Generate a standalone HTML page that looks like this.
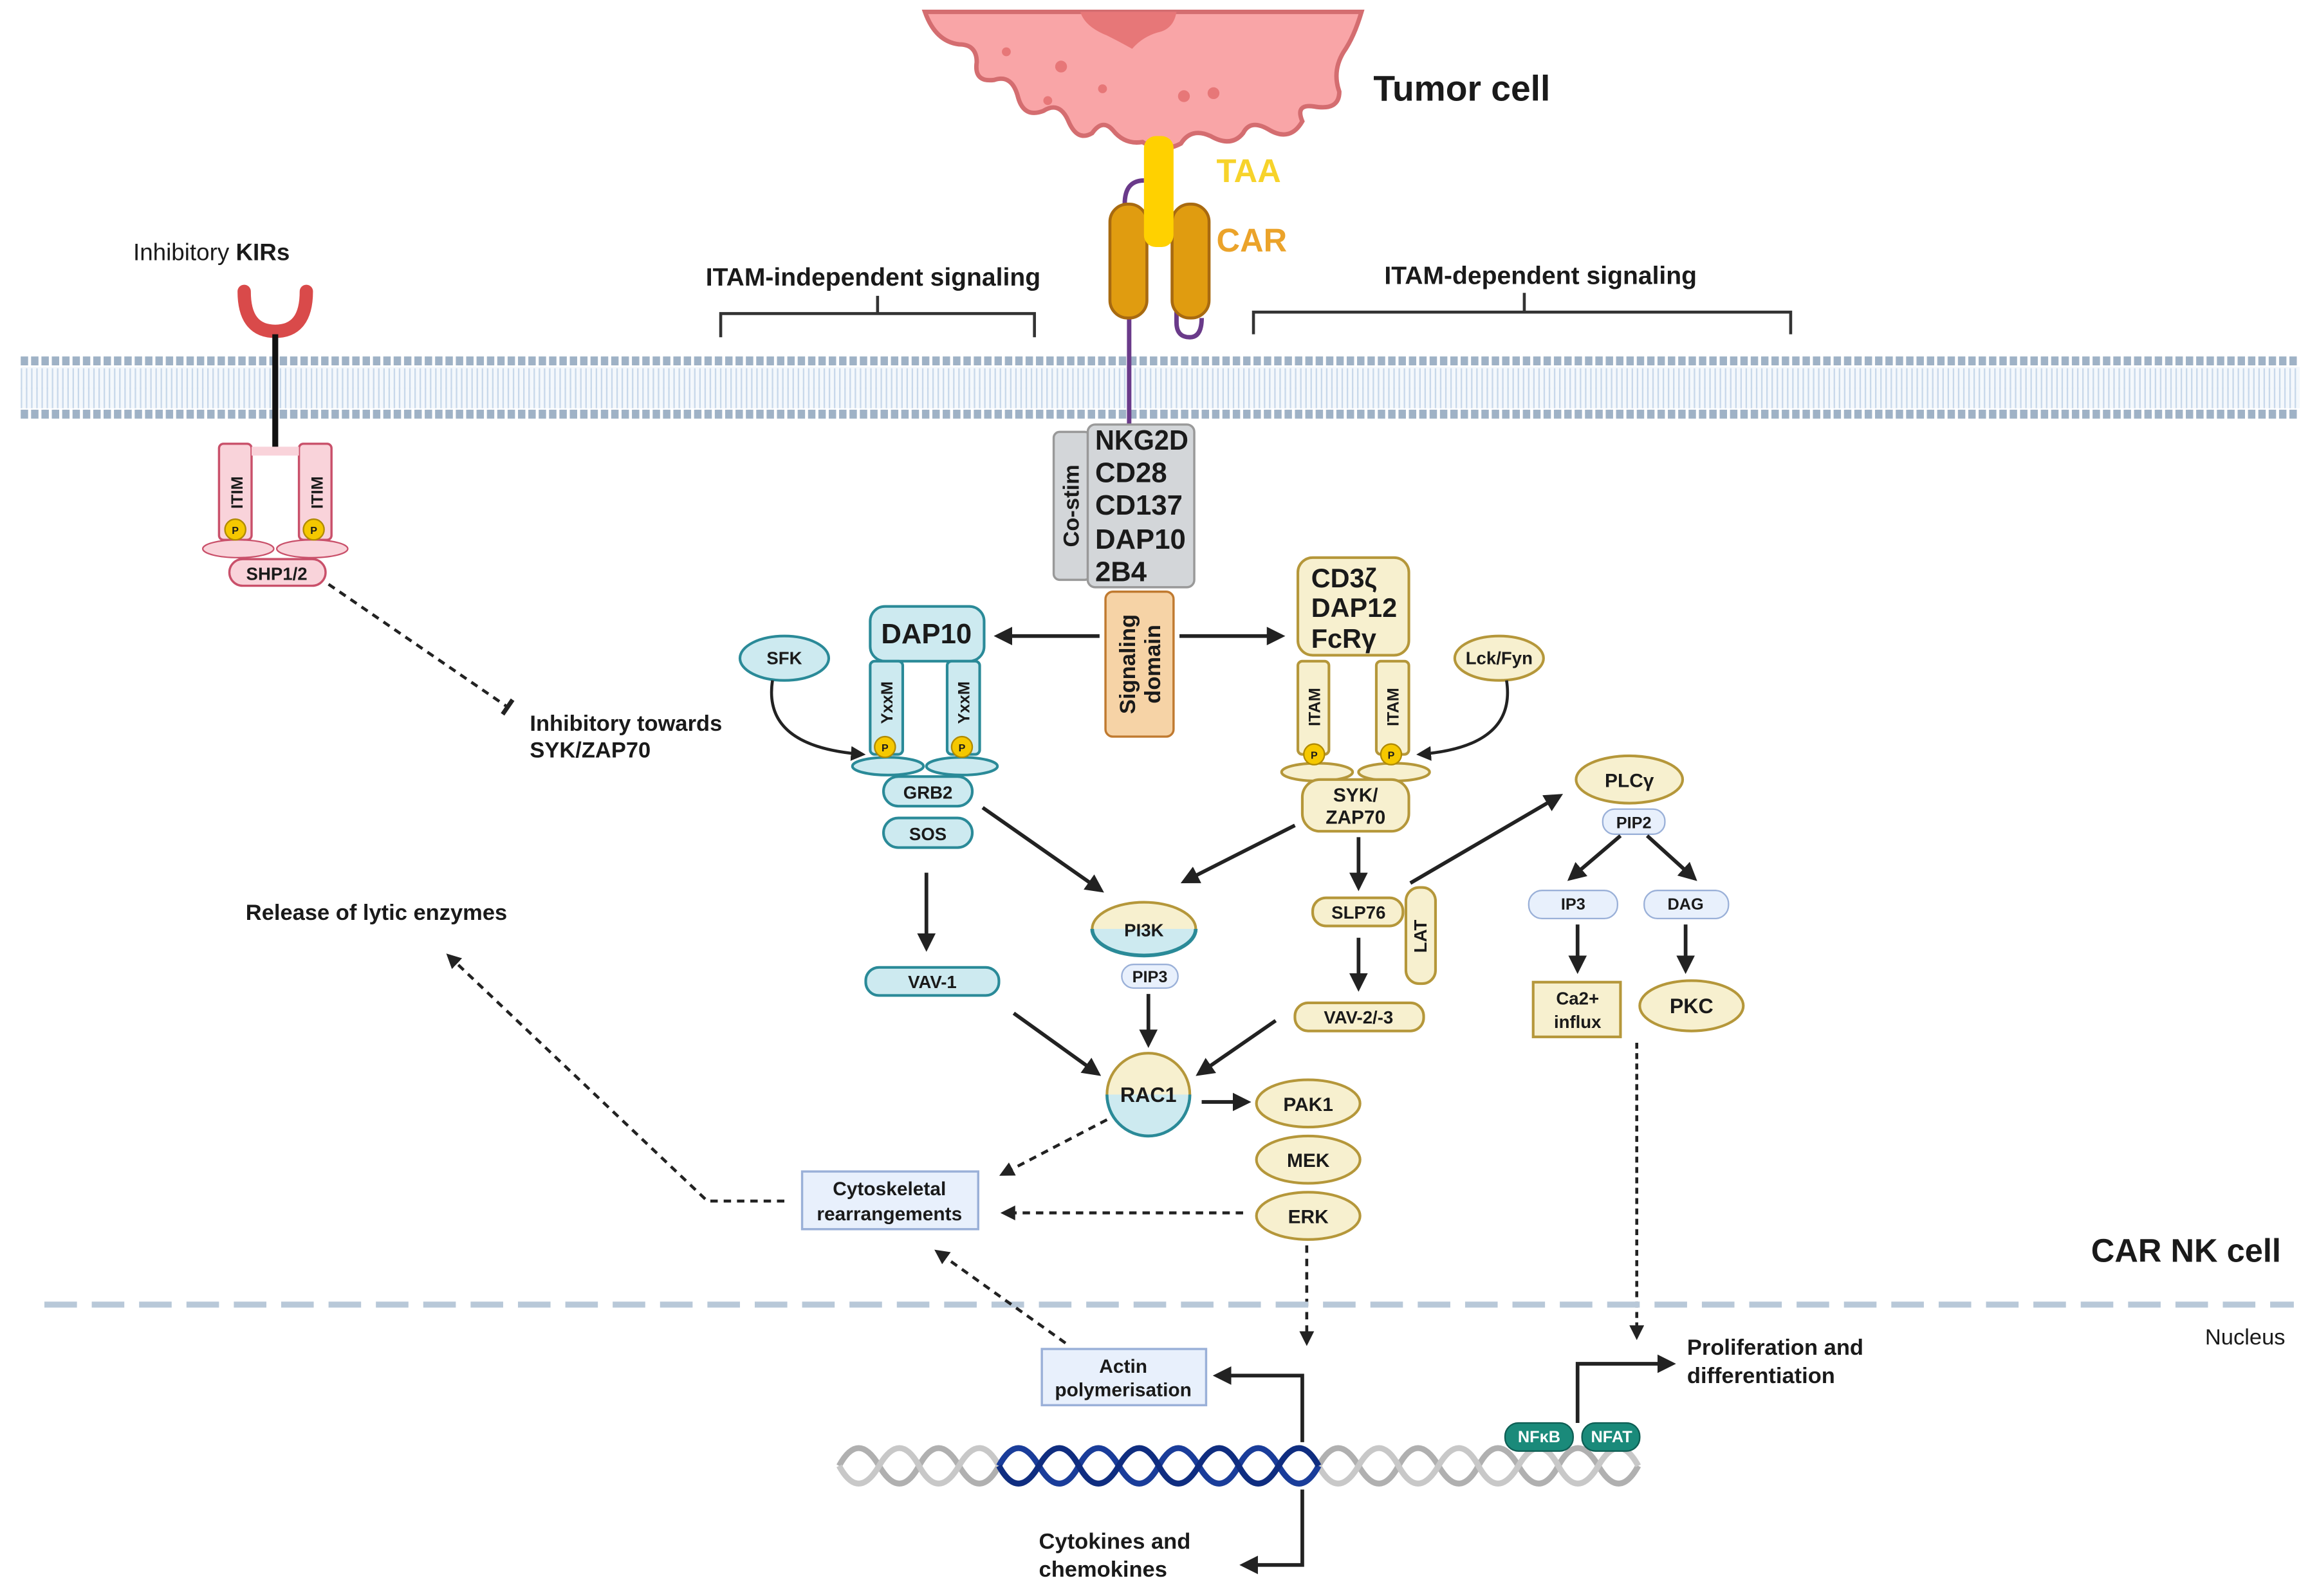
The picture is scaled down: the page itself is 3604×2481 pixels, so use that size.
<!DOCTYPE html>
<html><head><meta charset="utf-8"><style>
html,body{margin:0;padding:0;background:#fff}
svg{display:block}
text{font-family:"Liberation Sans Narrow","Liberation Sans",sans-serif;font-weight:bold;fill:#1a1a1a}
</style></head><body>
<svg width="3604" height="2481" viewBox="0 0 1567 1079" preserveAspectRatio="none" xmlns="http://www.w3.org/2000/svg">
<defs>
<marker id="ah" viewBox="0 0 10 10" refX="8" refY="5" markerWidth="5" markerHeight="5" orient="auto"><path d="M0,0 L10,5 L0,10 z" fill="#222"/></marker>
<marker id="tb" viewBox="0 0 10 10" refX="5" refY="5" markerWidth="6" markerHeight="6" orient="auto"><path d="M5,0 L5,10" stroke="#222" stroke-width="2.5"/></marker>
</defs>
<!-- membrane -->
<g>
<rect x="14" y="248" width="1540" height="28" fill="#f4f8fc"/>
<line x1="14" y1="244" x2="1554" y2="244" stroke="#9fb2c6" stroke-width="6" stroke-dasharray="5 2"/>
<line x1="14" y1="280" x2="1554" y2="280" stroke="#9fb2c6" stroke-width="6" stroke-dasharray="5 2"/>
<line x1="14" y1="256" x2="1554" y2="256" stroke="#c8d8ea" stroke-width="14" stroke-dasharray="1 2.5"/>
<line x1="14" y1="269" x2="1554" y2="269" stroke="#c8d8ea" stroke-width="14" stroke-dasharray="1 2.5"/>
</g>
<!-- tumor cell -->
<path d="M625,8 L920,8 Q915,25 908,35 Q900,48 905,62 Q905,75 888,72 Q875,70 880,82 Q872,96 858,88 Q845,80 840,90 Q832,100 818,92 Q805,86 798,97 Q785,104 772,96 Q760,98 752,88 Q745,80 738,90 Q728,96 722,82 Q716,68 705,75 Q692,80 688,66 Q684,50 672,54 Q658,56 660,42 Q660,30 648,30 Q632,28 625,8 z" fill="#f9a5a7" stroke="#d46d70" stroke-width="3"/>
<path d="M730,8 L795,8 Q793,20 782,22 Q772,25 765,33 Q756,28 748,24 Q733,18 730,8 z" fill="#e77778"/>
<circle cx="717" cy="45" r="4" fill="#e77778"/><circle cx="800" cy="65" r="4" fill="#e77778"/><circle cx="745" cy="60" r="3" fill="#e77778"/><circle cx="820" cy="63" r="4" fill="#e77778"/><circle cx="680" cy="35" r="3" fill="#e77778"/><circle cx="708" cy="68" r="3" fill="#e77778"/>
<text x="928" y="68" font-size="24">Tumor cell</text>
<!-- CAR -->
<path d="M773,122 Q760,122 760,138 L760,150" fill="none" stroke="#6a3a8a" stroke-width="3"/>
<line x1="763" y1="210" x2="763" y2="290" stroke="#6a3a8a" stroke-width="3"/>
<path d="M795,160 L795,218 Q795,228 804,228 Q812,228 812,215" fill="none" stroke="#6a3a8a" stroke-width="3"/>
<rect x="750" y="138" width="25" height="77" rx="12" fill="#e09c10" stroke="#a86a10" stroke-width="2"/>
<rect x="792" y="138" width="25" height="77" rx="12" fill="#e09c10" stroke="#a86a10" stroke-width="2"/>
<rect x="773" y="92" width="20" height="75" rx="8" fill="#ffd100"/>
<text x="822" y="123" font-size="22" style="fill:#f7d32a">TAA</text>
<text x="822" y="170" font-size="22" style="fill:#eba32a">CAR</text>
<!-- brackets -->
<text x="590" y="193" font-size="17" text-anchor="middle">ITAM-independent signaling</text>
<path d="M487,228 L487,212 L699,212 L699,228 M593,212 L593,200" fill="none" stroke="#333" stroke-width="2"/>
<text x="1041" y="192" font-size="17" text-anchor="middle">ITAM-dependent signaling</text>
<path d="M847,226 L847,211 L1210,211 L1210,226 M1030,211 L1030,198" fill="none" stroke="#333" stroke-width="2"/>
<!-- KIR -->
<text x="90" y="176" font-size="16" style="font-weight:normal">Inhibitory <tspan font-weight="bold">KIRs</tspan></text>
<path d="M165,197 Q165,224 186,224 Q207,224 207,197" fill="none" stroke="#d94a4a" stroke-width="9" stroke-linecap="round"/>
<line x1="186" y1="226" x2="186" y2="305" stroke="#111" stroke-width="4"/>
<rect x="148" y="300" width="22" height="65" rx="3" fill="#f9d3da" stroke="#c9506a" stroke-width="1.5"/>
<rect x="202" y="300" width="22" height="65" rx="3" fill="#f9d3da" stroke="#c9506a" stroke-width="1.5"/>
<rect x="170" y="302" width="32" height="6" fill="#f9d3da"/>
<text transform="translate(164,333) rotate(-90)" font-size="11" text-anchor="middle">ITIM</text>
<text transform="translate(218,333) rotate(-90)" font-size="11" text-anchor="middle">ITIM</text>
<ellipse cx="161" cy="371" rx="24" ry="6" fill="#f9d3da" stroke="#c9506a"/>
<ellipse cx="211" cy="371" rx="24" ry="6" fill="#f9d3da" stroke="#c9506a"/>
<circle cx="159" cy="358" r="7" fill="#f5c800" stroke="#b08a00"/><text x="159" y="361" font-size="7" text-anchor="middle">P</text>
<circle cx="212" cy="358" r="7" fill="#f5c800" stroke="#b08a00"/><text x="212" y="361" font-size="7" text-anchor="middle">P</text>
<rect x="155" y="378" width="65" height="18" rx="9" fill="#f9d3da" stroke="#c9506a" stroke-width="1.5"/>
<text x="187" y="392" font-size="12" text-anchor="middle">SHP1/2</text>
<line x1="222" y1="395" x2="343" y2="478" stroke="#222" stroke-width="2" stroke-dasharray="5 4" marker-end="url(#tb)"/>
<text x="358" y="494" font-size="15">Inhibitory towards</text>
<text x="358" y="512" font-size="15">SYK/ZAP70</text>
<!-- co-stim -->
<rect x="712" y="292" width="25" height="100" rx="4" fill="#d3d6d9" stroke="#999" stroke-width="1.5"/>
<text transform="translate(729,342) rotate(-90)" font-size="15" text-anchor="middle">Co-stim</text>
<rect x="735" y="287" width="72" height="110" rx="5" fill="#d3d6d9" stroke="#999" stroke-width="1.5"/>
<text x="740" y="304" font-size="19" textLength="63" lengthAdjust="spacingAndGlyphs">NKG2D</text>
<text x="740" y="326" font-size="19">CD28</text>
<text x="740" y="348" font-size="19">CD137</text>
<text x="740" y="371" font-size="19">DAP10</text>
<text x="740" y="393" font-size="19">2B4</text>
<rect x="747" y="400" width="46" height="98" rx="5" fill="#f6d3a6" stroke="#c07a30" stroke-width="1.5"/>
<text transform="translate(767,449) rotate(-90)" font-size="15" text-anchor="middle">Signaling</text>
<text transform="translate(784,449) rotate(-90)" font-size="15" text-anchor="middle">domain</text>
<line x1="743" y1="430" x2="674" y2="430" stroke="#222" stroke-width="2.5" marker-end="url(#ah)"/>
<line x1="797" y1="430" x2="866" y2="430" stroke="#222" stroke-width="2.5" marker-end="url(#ah)"/>
<!-- DAP10 side -->
<g fill="#cdeaf0" stroke="#2a8a98" stroke-width="1.8">
<rect x="588" y="410" width="77" height="37" rx="10"/>
<rect x="588" y="447" width="22" height="63" rx="3"/>
<rect x="640" y="447" width="22" height="63" rx="3"/>
<ellipse cx="600" cy="518" rx="24" ry="6"/>
<ellipse cx="650" cy="518" rx="24" ry="6"/>
<rect x="597" y="525" width="60" height="20" rx="10"/>
<rect x="597" y="553" width="60" height="20" rx="10"/>
<ellipse cx="530" cy="445" rx="30" ry="15"/>
<rect x="585" y="654" width="90" height="19" rx="9"/>
</g>
<text x="626" y="435" font-size="19" text-anchor="middle">DAP10</text>
<text transform="translate(603,475) rotate(-90)" font-size="11" text-anchor="middle">YxxM</text>
<text transform="translate(655,475) rotate(-90)" font-size="11" text-anchor="middle">YxxM</text>
<circle cx="598" cy="505" r="7" fill="#f5c800" stroke="#b08a00"/><text x="598" y="508" font-size="7" text-anchor="middle">P</text>
<circle cx="650" cy="505" r="7" fill="#f5c800" stroke="#b08a00"/><text x="650" y="508" font-size="7" text-anchor="middle">P</text>
<text x="627" y="540" font-size="12" text-anchor="middle">GRB2</text>
<text x="627" y="568" font-size="12" text-anchor="middle">SOS</text>
<text x="530" y="449" font-size="12" text-anchor="middle">SFK</text>
<text x="630" y="668" font-size="12" text-anchor="middle">VAV-1</text>
<path d="M522,460 Q515,505 583,510" fill="none" stroke="#222" stroke-width="2" marker-end="url(#ah)"/>
<line x1="626" y1="590" x2="626" y2="641" stroke="#222" stroke-width="2.5" marker-end="url(#ah)"/>
<line x1="664" y1="546" x2="744" y2="602" stroke="#222" stroke-width="2.5" marker-end="url(#ah)"/>
<!-- PI3K / RAC1 -->
<path d="M738,628 A35,18 0 0 1 808,628 z" fill="#f7f0cf"/>
<path d="M738,628 A35,18 0 0 0 808,628 z" fill="#cdeaf0"/>
<ellipse cx="773" cy="628" rx="35" ry="18" fill="none" stroke="#b5973a" stroke-width="1.8"/>
<path d="M738,628 A35,18 0 0 0 808,628" fill="none" stroke="#2a8a98" stroke-width="2.5"/>
<text x="773" y="633" font-size="12" text-anchor="middle">PI3K</text>
<rect x="758" y="652" width="38" height="16" rx="8" fill="#e8f0fc" stroke="#9ab0d8"/>
<text x="777" y="664" font-size="11" text-anchor="middle">PIP3</text>
<line x1="776" y1="672" x2="776" y2="706" stroke="#222" stroke-width="2.5" marker-end="url(#ah)"/>
<path d="M748,740 A28,28 0 0 1 804,740 z" fill="#f7f0cf"/>
<path d="M748,740 A28,28 0 0 0 804,740 z" fill="#cdeaf0"/>
<circle cx="776" cy="740" r="28" fill="none" stroke="#b5973a" stroke-width="1.8"/>
<path d="M748,740 A28,28 0 0 0 804,740" fill="none" stroke="#2a8a98" stroke-width="2"/>
<text x="776" y="745" font-size="14" text-anchor="middle">RAC1</text>
<line x1="685" y1="685" x2="742" y2="726" stroke="#222" stroke-width="2.5" marker-end="url(#ah)"/>
<line x1="862" y1="690" x2="810" y2="726" stroke="#222" stroke-width="2.5" marker-end="url(#ah)"/>
<line x1="812" y1="745" x2="843" y2="745" stroke="#222" stroke-width="2.5" marker-end="url(#ah)"/>
<!-- ITAM side -->
<g fill="#f7f0cf" stroke="#b5973a" stroke-width="1.8">
<rect x="877" y="377" width="75" height="66" rx="10"/>
<rect x="877" y="447" width="21" height="63" rx="3"/>
<rect x="930" y="447" width="22" height="63" rx="3"/>
<ellipse cx="890" cy="522" rx="24" ry="6"/>
<ellipse cx="942" cy="522" rx="24" ry="6"/>
<rect x="880" y="527" width="72" height="35" rx="12"/>
<ellipse cx="1013" cy="445" rx="30" ry="15"/>
<rect x="887" y="607" width="61" height="19" rx="9"/>
<rect x="950" y="600" width="20" height="65" rx="9"/>
<rect x="875" y="678" width="87" height="19" rx="9"/>
<ellipse cx="1101" cy="527" rx="36" ry="16"/>
<ellipse cx="1143" cy="680" rx="35" ry="17"/>
<ellipse cx="884" cy="746" rx="35" ry="16"/>
<ellipse cx="884" cy="784" rx="35" ry="16"/>
<ellipse cx="884" cy="822" rx="35" ry="16"/>
<rect x="1036" y="664" width="59" height="37"/>
</g>
<text x="886" y="397" font-size="18">CD3ζ</text>
<text x="886" y="417" font-size="18">DAP12</text>
<text x="886" y="438" font-size="18">FcRγ</text>
<text transform="translate(892,478) rotate(-90)" font-size="11" text-anchor="middle">ITAM</text>
<text transform="translate(945,478) rotate(-90)" font-size="11" text-anchor="middle">ITAM</text>
<circle cx="888" cy="510" r="7" fill="#f5c800" stroke="#b08a00"/><text x="888" y="513" font-size="7" text-anchor="middle">P</text>
<circle cx="940" cy="510" r="7" fill="#f5c800" stroke="#b08a00"/><text x="940" y="513" font-size="7" text-anchor="middle">P</text>
<text x="916" y="542" font-size="13" text-anchor="middle">SYK/</text>
<text x="916" y="557" font-size="13" text-anchor="middle">ZAP70</text>
<text x="1013" y="449" font-size="12" text-anchor="middle">Lck/Fyn</text>
<path d="M1018,460 Q1025,505 959,510" fill="none" stroke="#222" stroke-width="2" marker-end="url(#ah)"/>
<text x="918" y="621" font-size="12" text-anchor="middle">SLP76</text>
<text transform="translate(964,633) rotate(-90)" font-size="12" text-anchor="middle">LAT</text>
<text x="918" y="692" font-size="12" text-anchor="middle">VAV-2/-3</text>
<line x1="875" y1="558" x2="800" y2="596" stroke="#222" stroke-width="2.5" marker-end="url(#ah)"/>
<line x1="918" y1="566" x2="918" y2="600" stroke="#222" stroke-width="2.5" marker-end="url(#ah)"/>
<line x1="918" y1="634" x2="918" y2="668" stroke="#222" stroke-width="2.5" marker-end="url(#ah)"/>
<line x1="953" y1="597" x2="1054" y2="538" stroke="#222" stroke-width="2.5" marker-end="url(#ah)"/>
<text x="1101" y="532" font-size="13" text-anchor="middle">PLCγ</text>
<g fill="#e8f0fc" stroke="#9ab0d8">
<rect x="1083" y="547" width="42" height="17" rx="8"/>
<rect x="1033" y="602" width="60" height="19" rx="9"/>
<rect x="1111" y="602" width="57" height="19" rx="9"/>
</g>
<text x="1104" y="560" font-size="11" text-anchor="middle">PIP2</text>
<text x="1063" y="615" font-size="11" text-anchor="middle">IP3</text>
<text x="1139" y="615" font-size="11" text-anchor="middle">DAG</text>
<line x1="1095" y1="565" x2="1061" y2="594" stroke="#222" stroke-width="2.5" marker-end="url(#ah)"/>
<line x1="1113" y1="565" x2="1145" y2="594" stroke="#222" stroke-width="2.5" marker-end="url(#ah)"/>
<line x1="1066" y1="625" x2="1066" y2="656" stroke="#222" stroke-width="2.5" marker-end="url(#ah)"/>
<line x1="1139" y1="625" x2="1139" y2="656" stroke="#222" stroke-width="2.5" marker-end="url(#ah)"/>
<text x="1066" y="679" font-size="12" text-anchor="middle">Ca2+</text>
<text x="1066" y="695" font-size="12" text-anchor="middle">influx</text>
<text x="1143" y="685" font-size="14" text-anchor="middle">PKC</text>
<line x1="1106" y1="705" x2="1106" y2="904" stroke="#222" stroke-width="2" stroke-dasharray="4 3" marker-end="url(#ah)"/>
<text x="884" y="751" font-size="13" text-anchor="middle">PAK1</text>
<text x="884" y="789" font-size="13" text-anchor="middle">MEK</text>
<text x="884" y="827" font-size="13" text-anchor="middle">ERK</text>
<!-- cytoskeletal -->
<rect x="542" y="792" width="119" height="39" fill="#e8f0fc" stroke="#9ab0d8" stroke-width="1.5"/>
<text x="601" y="808" font-size="13" text-anchor="middle">Cytoskeletal</text>
<text x="601" y="825" font-size="13" text-anchor="middle">rearrangements</text>
<line x1="840" y1="820" x2="678" y2="820" stroke="#222" stroke-width="2" stroke-dasharray="5 4" marker-end="url(#ah)"/>
<line x1="748" y1="757" x2="677" y2="794" stroke="#222" stroke-width="2" stroke-dasharray="5 4" marker-end="url(#ah)"/>
<path d="M530,812 L478,812 L303,646" fill="none" stroke="#222" stroke-width="2" stroke-dasharray="5 4" marker-end="url(#ah)"/>
<text x="166" y="622" font-size="15">Release of lytic enzymes</text>
<line x1="883" y1="842" x2="883" y2="908" stroke="#222" stroke-width="2" stroke-dasharray="5 4" marker-end="url(#ah)"/>
<!-- nucleus -->
<line x1="30" y1="882" x2="1550" y2="882" stroke="#b8c8d8" stroke-width="4" stroke-dasharray="22 10"/>
<text x="1413" y="853" font-size="22">CAR NK cell</text>
<text x="1490" y="909" font-size="15" style="font-weight:normal">Nucleus</text>
<rect x="704" y="912" width="111" height="38" fill="#e8f0fc" stroke="#9ab0d8" stroke-width="1.5"/>
<text x="759" y="928" font-size="13" text-anchor="middle">Actin</text>
<text x="759" y="944" font-size="13" text-anchor="middle">polymerisation</text>
<line x1="720" y1="908" x2="633" y2="846" stroke="#222" stroke-width="2" stroke-dasharray="5 4" marker-end="url(#ah)"/>
<!-- DNA -->
<g fill="none" stroke-width="4">
<path d="M567,991 q13,-24 27,0 t27,0 t27,0 t27,0 t27,0 t27,0 t27,0 t27,0 t27,0 t27,0 t27,0 t27,0 t27,0 t27,0 t27,0 t27,0 t27,0 t27,0 t27,0 t27,0" stroke="#b0b0b0"/>
<path d="M567,991 q13,24 27,0 t27,0 t27,0 t27,0 t27,0 t27,0 t27,0 t27,0 t27,0 t27,0 t27,0 t27,0 t27,0 t27,0 t27,0 t27,0 t27,0 t27,0 t27,0 t27,0" stroke="#c8c8c8"/>
<path d="M675,991 q13,-24 27,0 t27,0 t27,0 t27,0 t27,0 t27,0 t27,0 t27,0" stroke="#1a3d9a"/>
<path d="M675,991 q13,24 27,0 t27,0 t27,0 t27,0 t27,0 t27,0 t27,0 t27,0" stroke="#0f2d80"/>
</g>
<path d="M880,975 L880,930 L822,930" fill="none" stroke="#222" stroke-width="2.5" marker-end="url(#ah)"/>
<path d="M880,1007 L880,1058 L840,1058" fill="none" stroke="#222" stroke-width="2.5" marker-end="url(#ah)"/>
<text x="702" y="1047" font-size="15">Cytokines and</text>
<text x="702" y="1066" font-size="15">chemokines</text>
<rect x="1017" y="962" width="46" height="19" rx="9" fill="#1a8a7a" stroke="#0e5e54"/>
<rect x="1069" y="962" width="39" height="19" rx="9" fill="#1a8a7a" stroke="#0e5e54"/>
<text x="1040" y="975" font-size="11" text-anchor="middle" style="fill:#fff">NFκB</text>
<text x="1089" y="975" font-size="11" text-anchor="middle" style="fill:#fff">NFAT</text>
<path d="M1066,962 L1066,922 L1130,922" fill="none" stroke="#222" stroke-width="2.5" marker-end="url(#ah)"/>
<text x="1140" y="916" font-size="15">Proliferation and</text>
<text x="1140" y="935" font-size="15">differentiation</text>
</svg>
</body></html>
